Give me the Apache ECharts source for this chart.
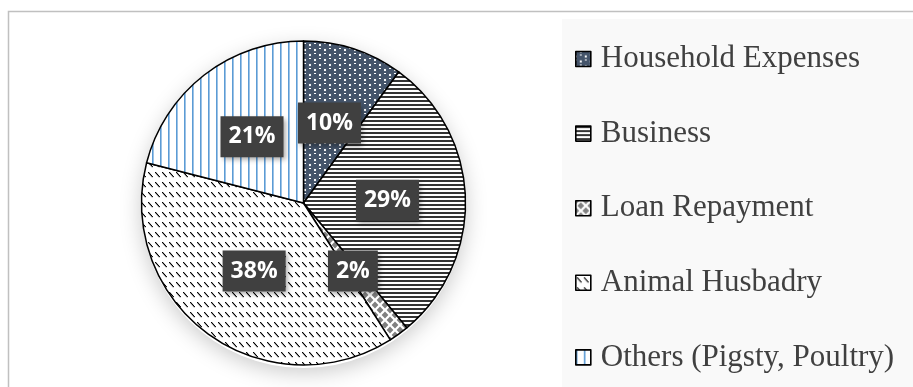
<!DOCTYPE html>
<html>
<head>
<meta charset="utf-8">
<style>
  html, body { margin: 0; padding: 0; background: #ffffff; }
  #chart { width: 913px; height: 387px; }
</style>
<script src="https://cdn.jsdelivr.net/npm/echarts@6/dist/echarts.min.js"></script>
</head>
<body>
<div id="chart"></div>
<script>
// Uses of loan money, share of households (%)
const categories = ['Household Expenses', 'Business', 'Loan Repayment', 'Animal Husbadry', 'Others (Pigsty, Poultry)'];
const shares = [10, 29, 2, 38, 21];

// Small repeating hatch tiles, one per category
function tile(w, h, draw) {
  const c = document.createElement('canvas');
  c.width = w; c.height = h;
  const g = c.getContext('2d');
  g.fillStyle = '#ffffff';
  g.fillRect(0, 0, w, h);
  draw(g);
  return { image: c, repeat: 'repeat' };
}

const fills = [
  // navy checker of rounded blobs
  tile(10, 10, g => {
    g.fillStyle = '#44546a';
    [[0, 0], [5, 5], [10, 0], [0, 10], [10, 10]].forEach(([x, y]) => {
      g.beginPath(); g.arc(x, y, 4.1, 0, Math.PI * 2); g.fill();
    });
    g.fillStyle = '#ffffff';
    g.fillRect(4, 3, 2, 1);
    g.fillRect(9, 8, 1, 1);
    g.fillRect(0, 8, 1, 1);
  }),
  // narrow horizontal stripes
  tile(4, 4, g => {
    g.fillStyle = '#333333';
    g.fillRect(0, 0, 4, 2);
  }),
  // grey diamonds
  tile(10, 10, g => {
    g.fillStyle = '#808080';
    const d = (cx, cy, r) => {
      g.beginPath(); g.moveTo(cx, cy - r); g.lineTo(cx + r, cy); g.lineTo(cx, cy + r); g.lineTo(cx - r, cy); g.closePath(); g.fill();
    };
    d(5, 5, 3.4); d(0, 0, 3.4); d(10, 0, 3.4); d(0, 10, 3.4); d(10, 10, 3.4);
  }),
  // dashed downward diagonal
  tile(7, 10, g => {
    g.fillStyle = '#000000';
    for (let i = 0; i < 5; i++) { g.fillRect(1 + i * 0.9, 2 + i, 1.3, 1.2); }
  }),
  // light blue vertical lines
  tile(8, 8, g => {
    g.fillStyle = '#5b9bd5';
    g.fillRect(0, 0, 1.6, 8);
  })
];

const CX = 303.5, CY = 203, R = 162;

const chart = echarts.init(document.getElementById('chart'), null, { renderer: 'canvas' });

chart.setOption({
  animation: false,
  backgroundColor: '#ffffff',
  graphic: [
    { type: 'rect', z: -10, shape: { x: 8.5, y: 11.5, width: 1200, height: 1200 },
      style: { fill: '#ffffff', stroke: '#c0c0c0', lineWidth: 1.5 } },
    { type: 'rect', z: -9, shape: { x: 562, y: 19, width: 400, height: 400 },
      style: { fill: '#f9f9f9' } },
    { type: 'circle', z: -8, shape: { cx: CX, cy: CY + 3, r: R },
      style: { fill: '#ffffff', shadowBlur: 22, shadowColor: 'rgba(0,0,0,0.22)', shadowOffsetY: 4 } }
  ],
  legend: {
    orient: 'vertical',
    left: 570,
    top: 38,
    itemWidth: 15,
    itemHeight: 15,
    itemGap: 42.6,
    icon: 'rect',
    itemStyle: { borderColor: '#000000', borderWidth: 1.6 },
    textStyle: {
      fontFamily: '"Liberation Serif", "Times New Roman", serif',
      fontSize: 31,
      lineHeight: 32,
      color: '#404040',
      padding: [0, 0, 0, 5]
    },
    data: categories
  },
  series: [{
    type: 'pie',
    center: [CX, CY],
    radius: [0, R],
    startAngle: 90,
    clockwise: true,
    avoidLabelOverlap: false,
    emphasis: { disabled: true },
    itemStyle: { borderColor: '#000000', borderWidth: 1.5 },
    label: {
      position: 'inside',
      formatter: '{c}%',
      color: '#ffffff',
      fontFamily: '"Open Sans", sans-serif',
      fontWeight: 'bold',
      fontSize: 23,
      lineHeight: 27,
      backgroundColor: '#404040',
      padding: [7, 8],
      shadowBlur: 5,
      shadowOffsetX: 2,
      shadowOffsetY: 3,
      shadowColor: 'rgba(0,0,0,0.35)'
    },
    labelLine: { show: false },
    data: categories.map((name, i) => ({ name, value: shares[i], itemStyle: { color: fills[i] } }))
  }]
});
</script>
</body>
</html>
